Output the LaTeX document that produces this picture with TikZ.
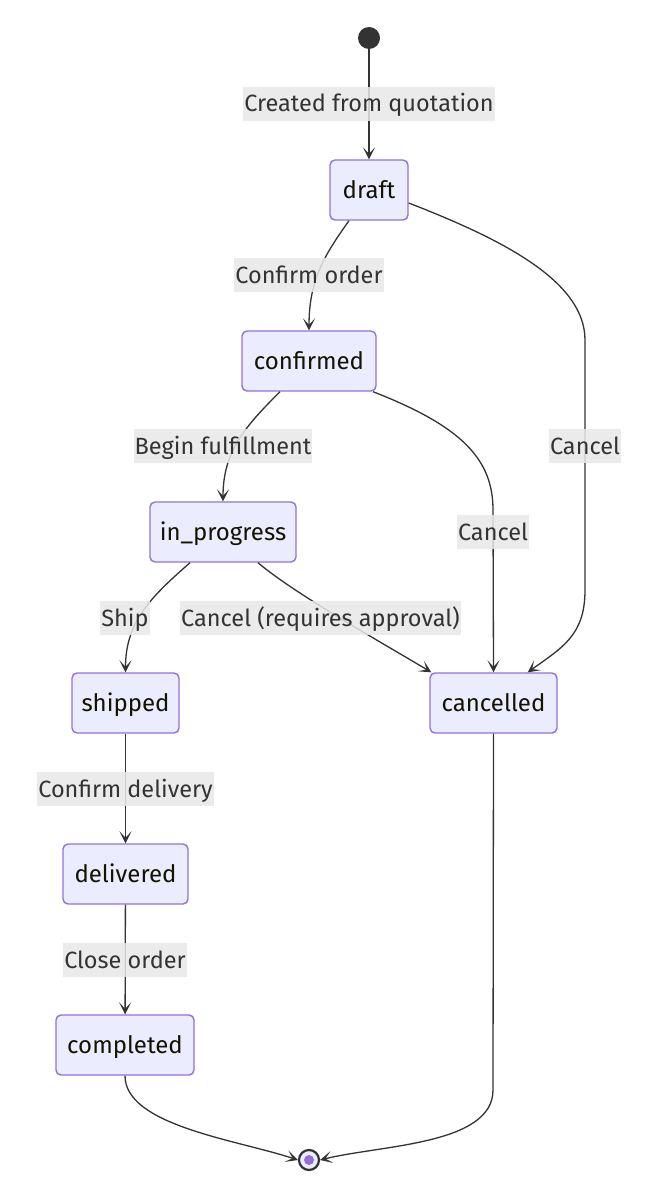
\documentclass[tikz,border=0pt]{standalone}
\usepackage{fontspec}
\setmainfont{Fira Sans}
\usetikzlibrary{arrows.meta}
\definecolor{nodefill}{HTML}{ECECFF}
\definecolor{nodeedge}{HTML}{9370DB}
\definecolor{linec}{HTML}{333333}
\definecolor{labfill}{HTML}{E8E8E8}
\definecolor{nodetext}{HTML}{131300}
\tikzset{
  statebox/.style={draw=nodeedge, fill=nodefill, line width=1.4pt, rounded corners=5pt,
    minimum height=60pt, inner xsep=0pt, text=nodetext, text height=19pt, text depth=3pt,
    font=\fontsize{24}{28}\selectfont},
  lab/.style={fill=labfill, fill opacity=0.85, text opacity=1, text=linec, inner xsep=1pt,
    inner ysep=0pt, minimum height=34pt, text height=19pt, text depth=3pt,
    font=\fontsize{23.5}{28}\selectfont},
  edge/.style={draw=linec, line width=1.3pt, -{Stealth[length=12pt,width=12pt,inset=6.5pt]}},
}
\begin{document}
\begin{tikzpicture}[x=1pt,y=-1pt]
\useasboundingbox (0,0) rectangle (648,1188);
% states
\node[circle, fill=linec, minimum size=22pt, inner sep=0pt] (start) at (369,38) {};
\node[statebox, minimum width=78pt] (draft) at (369,190) {draft};
\node[statebox, minimum width=134pt] (confirmed) at (309,361) {confirmed};
\node[statebox, minimum width=146pt] (inprog) at (223,532) {in\_progress};
\node[statebox, minimum width=107pt] (shipped) at (125.5,703) {shipped};
\node[statebox, minimum width=127pt] (cancelled) at (493.5,703) {cancelled};
\node[statebox, minimum width=125pt] (delivered) at (125.5,874) {delivered};
\node[statebox, minimum width=138pt] (completed) at (125,1045) {completed};
\node[circle, draw=linec, fill=nodefill, line width=2.2pt, minimum size=20pt, inner sep=0pt] (end) at (309,1160) {};
\node[circle, fill=nodeedge, minimum size=10pt, inner sep=0pt] (endin) at (end) {};
% edges
\draw[edge] (start) -- (draft);
\draw[edge] ([xshift=-20pt]draft.south) .. controls +(-25,35) and +(0,-50) .. (confirmed.north);
\draw[edge] ([yshift=-13pt]draft.east) .. controls +(90,35) and +(0,-60) .. (585,340) -- (585,590) .. controls +(0,45) and +(35,-25) .. ([xshift=-30pt]cancelled.north east);
\draw[edge] ([xshift=-29pt]confirmed.south) .. controls +(-35,35) and +(0,-50) .. (inprog.north);
\draw[edge] ([xshift=64pt]confirmed.south) .. controls +(90,35) and +(0,-50) .. (493,510) -- (cancelled.north);
\draw[edge] ([xshift=-33pt]inprog.south) .. controls +(-40,35) and +(0,-50) .. (shipped.north);
\draw[edge] ([xshift=35pt]inprog.south) .. controls +(35,30) and +(-50,-30) .. ([xshift=2pt]cancelled.north west);
\draw[edge] (shipped) -- (delivered);
\draw[edge] (delivered) -- (completed);
\draw[edge] (completed.south) .. controls +(0,50) and +(-60,-20) .. (end.west);
\draw[edge] (cancelled.south) -- (493,1090) .. controls +(0,55) and +(60,-15) .. (end.east);
% labels
\node[lab] (l1) at (369,104) {Created from quotation};
\node[lab] (l2) at (309,275) {Confirm order};
\node[lab] (l3) at (223,446) {Begin fulfillment};
\node[lab] (l4) at (585,446) {Cancel};
\node[lab] (l5) at (493,532) {Cancel};
\node[lab] (l6) at (125,618) {Ship};
\node[lab] (l7) at (320.5,618) {Cancel (requires approval)};
\node[lab] (l8) at (125.5,789) {Confirm delivery};
\node[lab] (l9) at (125,960) {Close order};
\end{tikzpicture}
\end{document}
